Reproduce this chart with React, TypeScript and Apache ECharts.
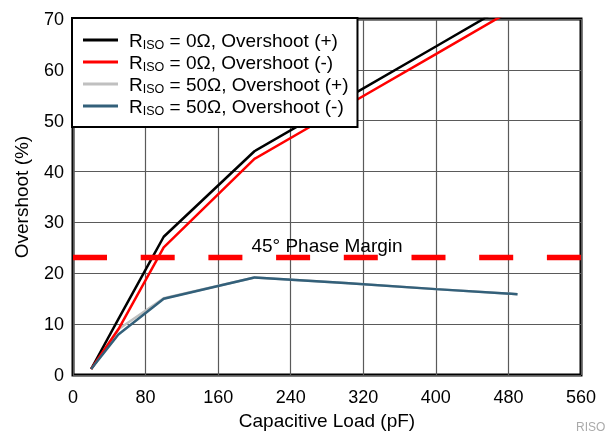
import React, { useEffect, useRef } from "react";
import * as echarts from "echarts";

const capLoad = [20, 50, 100, 200, 300, 400, 490];
const os0Pos = [1.2, 11.0, 27.2, 44.0, 54.3, 64.6, 73.9];
const os0Neg = [1.2, 9.0, 25.1, 42.5, 52.8, 63.1, 72.4];
const os50Pos = [1.2, 9.0, 15.1, 19.2, 18.1, 16.9, 15.9];
const os50Neg = [1.2, 8.0, 15.0, 19.2, 18.1, 16.9, 15.9];
const phaseMargin = 23.25;
const phaseLabel = "45° Phase Margin";

const seriesNames = [
  "RISO = 0Ω, Overshoot (+)",
  "RISO = 0Ω, Overshoot (-)",
  "RISO = 50Ω, Overshoot (+)",
  "RISO = 50Ω, Overshoot (-)",
];
const seriesColors = ["#000000", "#ff0000", "#c0c0c0", "#33607a"];
const seriesValues = [os0Pos, os0Neg, os50Pos, os50Neg];

const FONT = "Liberation Sans";

export default function App() {
  const ref = useRef<HTMLDivElement>(null);
  useEffect(() => {
    if (!ref.current) return;
    const chart = echarts.init(ref.current, null, { renderer: "svg" });
    const lines = seriesNames.map((name, i) => ({
      name,
      type: "line",
      data: capLoad.map((x, j) => [x, seriesValues[i][j]]),
      symbol: "none",
      clip: true,
      lineStyle: { color: seriesColors[i], width: 2.5 },
      itemStyle: { color: seriesColors[i] },
      z: i === 2 ? 2 : 3,
    }));
    chart.setOption({
      animation: false,
      textStyle: { fontFamily: FONT },
      grid: {
        left: 73,
        right: 27,
        top: 19,
        bottom: 57,
        show: true,
        borderColor: "#000",
        borderWidth: 3,
        backgroundColor: "transparent",
      },
      xAxis: {
        type: "value",
        min: 0,
        max: 560,
        interval: 80,
        name: "Capacitive Load (pF)",
        nameLocation: "middle",
        nameGap: 33,
        nameTextStyle: { fontSize: 19, color: "#000", fontFamily: FONT },
        axisLine: { show: false },
        axisTick: { show: false },
        axisLabel: { fontSize: 18, color: "#000", margin: 13, fontFamily: FONT },
        splitLine: { show: true, lineStyle: { color: "#5a5a5a", width: 1.2 } },
      },
      yAxis: {
        type: "value",
        min: 0,
        max: 70,
        interval: 10,
        name: "Overshoot (%)",
        nameLocation: "middle",
        nameGap: 42,
        nameTextStyle: { fontSize: 19, color: "#000", fontFamily: FONT },
        axisLine: { show: false },
        axisTick: { show: false },
        axisLabel: { fontSize: 18, color: "#000", margin: 9, fontFamily: FONT },
        splitLine: { show: true, lineStyle: { color: "#5a5a5a", width: 1.2 } },
      },
      legend: {
        data: seriesNames,
        orient: "vertical",
        left: 72,
        top: 18,
        backgroundColor: "#fff",
        borderColor: "#000",
        borderWidth: 2,
        borderRadius: 0,
        padding: [11, 9, 10, 11],
        itemWidth: 35,
        itemHeight: 3,
        itemGap: 0,
        icon: "rect",
        formatter: (name: string) => {
          const rest = name.slice(4);
          return "{r|R}{s|ISO}{t|" + rest + "}";
        },
        textStyle: {
          fontFamily: FONT,
          fontSize: 19,
          color: "#000",
          rich: {
            r: { fontSize: 19, lineHeight: 21, fontFamily: FONT, color: "#000", padding: [0, 0, 0, 6] },
            s: { fontSize: 12.5, lineHeight: 12, fontFamily: FONT, color: "#000", padding: [9, 0, 0, 0] },
            t: { fontSize: 19, lineHeight: 21, fontFamily: FONT, color: "#000" },
          },
        },
      },
      graphic: [
        {
          type: "text",
          left: 576,
          top: 421,
          style: { text: "RISO", fill: "#aaaaaa", font: "12px " + FONT },
        },
      ],
      series: [
        ...lines,
        {
          name: "phase",
          type: "line",
          data: [],
          symbol: "none",
          z: 4,
          markLine: {
            silent: true,
            symbol: ["none", "none"],
            lineStyle: { color: "#ff0000", width: 5.3, type: [34, 33.7] },
            label: {
              show: true,
              position: "insideMiddleTop",
              formatter: phaseLabel,
              color: "#000",
              fontSize: 19,
              fontFamily: FONT,
              distance: 2,
            },
            emphasis: { disabled: true },
            data: [{ yAxis: phaseMargin }],
          },
        },
      ],
    });
    return () => chart.dispose();
  }, []);
  return (
    <div
      ref={ref}
      style={{ position: "fixed", left: 0, top: 0, width: 608, height: 435 }}
    />
  );
}
